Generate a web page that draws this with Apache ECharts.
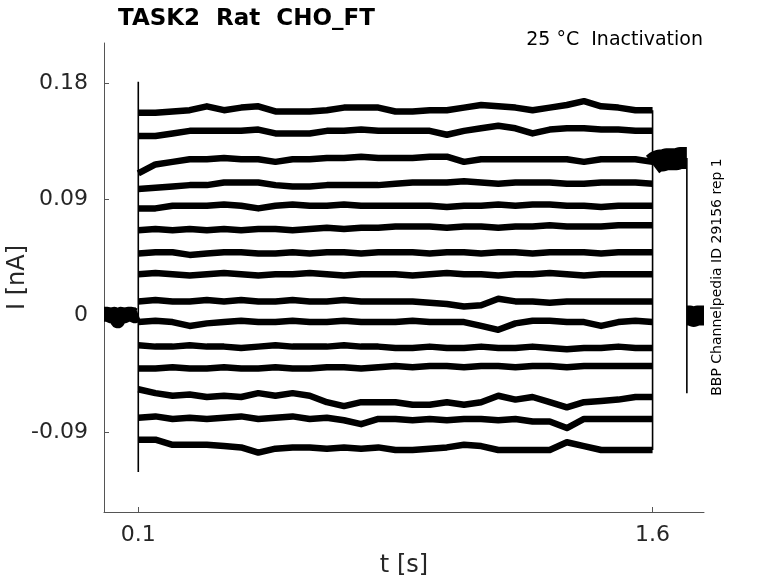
<!DOCTYPE html>
<html>
<head>
<meta charset="utf-8">
<script src="https://cdn.jsdelivr.net/npm/echarts@6/dist/echarts.min.js"></script>
<style>
  html, body { margin: 0; padding: 0; background: #fff; }
  #main { width: 778px; height: 583px; }
</style>
</head>
<body>
<div id="main"></div>
<script>
// 时间点（秒）
var preTimes = [0, 0.01, 0.02, 0.03, 0.035, 0.04, 0.045, 0.05, 0.06, 0.07, 0.08, 0.09, 0.1];
var pulseTimes = [0.1, 0.15, 0.2, 0.25, 0.3, 0.35, 0.4, 0.45, 0.5, 0.55, 0.6, 0.65, 0.7, 0.75, 0.8,
  0.85, 0.9, 0.95, 1.0, 1.05, 1.1, 1.15, 1.2, 1.25, 1.3, 1.35, 1.4, 1.45, 1.5, 1.55, 1.6];
var testTimes = [1.6, 1.61, 1.62, 1.63, 1.64, 1.65, 1.66, 1.67, 1.68, 1.69, 1.7];
var tailTimes = [1.7, 1.71, 1.72, 1.73, 1.74, 1.75];

// 电流 (nA)
var preCurrent = [0.001, 0.001, 0.0, 0.001, 0.0, -0.004, -0.001, 0.001, 0.0, 0.001, 0.001, 0.0, 0.001];
var pulseCurrents = [
  [0.157, 0.157, 0.158, 0.159, 0.162, 0.159, 0.161, 0.162, 0.158, 0.158, 0.158, 0.159, 0.161, 0.161, 0.161,
   0.158, 0.158, 0.159, 0.159, 0.161, 0.163, 0.162, 0.161, 0.159, 0.161, 0.163, 0.166, 0.162, 0.161, 0.159, 0.159],
  [0.139, 0.139, 0.141, 0.143, 0.143, 0.143, 0.143, 0.144, 0.141, 0.141, 0.141, 0.143, 0.143, 0.144, 0.143,
   0.143, 0.143, 0.143, 0.140, 0.143, 0.145, 0.147, 0.145, 0.141, 0.144, 0.145, 0.145, 0.144, 0.144, 0.143, 0.143],
  [0.110, 0.117, 0.119, 0.121, 0.121, 0.122, 0.121, 0.121, 0.119, 0.121, 0.121, 0.122, 0.122, 0.123, 0.122,
   0.122, 0.122, 0.123, 0.123, 0.119, 0.121, 0.121, 0.121, 0.121, 0.121, 0.121, 0.119, 0.121, 0.121, 0.121, 0.119],
  [0.098, 0.099, 0.100, 0.101, 0.101, 0.103, 0.103, 0.103, 0.101, 0.100, 0.100, 0.101, 0.101, 0.101, 0.101,
   0.102, 0.103, 0.103, 0.103, 0.104, 0.103, 0.102, 0.103, 0.103, 0.103, 0.102, 0.102, 0.103, 0.103, 0.103, 0.102],
  [0.083, 0.083, 0.085, 0.085, 0.085, 0.086, 0.085, 0.083, 0.085, 0.086, 0.085, 0.085, 0.086, 0.085, 0.085,
   0.085, 0.085, 0.085, 0.084, 0.085, 0.085, 0.086, 0.085, 0.086, 0.086, 0.085, 0.085, 0.084, 0.085, 0.085, 0.085],
  [0.066, 0.067, 0.066, 0.067, 0.066, 0.067, 0.066, 0.067, 0.067, 0.066, 0.067, 0.068, 0.067, 0.068, 0.068,
   0.069, 0.069, 0.069, 0.068, 0.069, 0.069, 0.068, 0.069, 0.069, 0.070, 0.069, 0.069, 0.069, 0.070, 0.070, 0.070],
  [0.048, 0.049, 0.049, 0.047, 0.048, 0.049, 0.049, 0.048, 0.048, 0.049, 0.048, 0.049, 0.049, 0.048, 0.049,
   0.049, 0.049, 0.048, 0.049, 0.049, 0.048, 0.049, 0.049, 0.048, 0.049, 0.049, 0.049, 0.048, 0.049, 0.049, 0.049],
  [0.032, 0.033, 0.032, 0.031, 0.032, 0.033, 0.032, 0.031, 0.032, 0.032, 0.033, 0.032, 0.031, 0.032, 0.032,
   0.032, 0.031, 0.032, 0.033, 0.032, 0.032, 0.031, 0.032, 0.032, 0.033, 0.032, 0.031, 0.032, 0.032, 0.032, 0.032],
  [0.011, 0.012, 0.011, 0.011, 0.012, 0.011, 0.012, 0.011, 0.011, 0.012, 0.011, 0.011, 0.012, 0.011, 0.011,
   0.011, 0.011, 0.010, 0.009, 0.007, 0.008, 0.013, 0.011, 0.011, 0.010, 0.011, 0.011, 0.011, 0.011, 0.011, 0.011],
  [-0.005, -0.004, -0.005, -0.008, -0.006, -0.005, -0.004, -0.005, -0.005, -0.004, -0.005, -0.005, -0.004, -0.005, -0.005,
   -0.005, -0.004, -0.005, -0.005, -0.005, -0.008, -0.011, -0.006, -0.004, -0.004, -0.005, -0.005, -0.008, -0.005, -0.004, -0.005],
  [-0.023, -0.024, -0.024, -0.023, -0.024, -0.024, -0.025, -0.024, -0.023, -0.024, -0.024, -0.024, -0.023, -0.024, -0.024,
   -0.025, -0.025, -0.024, -0.025, -0.025, -0.024, -0.025, -0.025, -0.024, -0.025, -0.026, -0.025, -0.025, -0.024, -0.025, -0.025],
  [-0.041, -0.041, -0.040, -0.041, -0.041, -0.040, -0.041, -0.041, -0.040, -0.041, -0.041, -0.040, -0.040, -0.041, -0.040,
   -0.039, -0.040, -0.039, -0.039, -0.040, -0.039, -0.039, -0.040, -0.039, -0.039, -0.040, -0.039, -0.039, -0.039, -0.039, -0.039],
  [-0.057, -0.060, -0.062, -0.061, -0.063, -0.062, -0.063, -0.060, -0.062, -0.060, -0.062, -0.067, -0.070, -0.067, -0.067,
   -0.067, -0.069, -0.069, -0.067, -0.069, -0.067, -0.062, -0.065, -0.063, -0.067, -0.071, -0.067, -0.066, -0.065, -0.063, -0.063],
  [-0.079, -0.078, -0.080, -0.079, -0.080, -0.079, -0.078, -0.080, -0.079, -0.078, -0.080, -0.079, -0.081, -0.084, -0.080,
   -0.080, -0.081, -0.080, -0.081, -0.080, -0.080, -0.081, -0.080, -0.082, -0.082, -0.087, -0.080, -0.080, -0.080, -0.080, -0.080],
  [-0.096, -0.096, -0.100, -0.100, -0.100, -0.101, -0.102, -0.106, -0.103, -0.102, -0.102, -0.103, -0.102, -0.103, -0.102,
   -0.104, -0.104, -0.103, -0.102, -0.100, -0.101, -0.104, -0.104, -0.104, -0.104, -0.098, -0.101, -0.104, -0.104, -0.104, -0.104]
];
var testCurrent = [0.117, 0.119, 0.120, 0.120, 0.121, 0.121, 0.121, 0.121, 0.122, 0.122, 0.122];
var tailCurrent = [0.0, 0.0, -0.001, 0.0, 0.0, 0.0];
var onsetPeaks = [0.181, -0.121]; // 0.1 s 处的电容瞬变
var tailDip = -0.060;             // 1.7 s 处的尾电流尖峰

var xTicks = [0.1, 1.6];
var yTicks = [-0.09, 0, 0.09, 0.18];

var FONT = 'DejaVu Sans';
var chart = echarts.init(document.getElementById('main'));

function pairs(ts, vs) {
  return ts.map(function (t, i) { return [t, vs[i]]; });
}
function traceLine(data, width) {
  return {
    type: 'line',
    data: data,
    showSymbol: false,
    silent: true,
    lineStyle: { color: '#000', width: width, cap: 'butt', join: 'round' }
  };
}

var series = [];
// 保持电位段
series.push(traceLine(pairs(preTimes, preCurrent), 15));
// 各条预脉冲
pulseCurrents.forEach(function (vals) {
  series.push(traceLine(pairs(pulseTimes, vals), 6.5));
});
// 测试脉冲与尾段
series.push(traceLine(pairs(testTimes, testCurrent), 22));
series.push(traceLine(pairs(tailTimes, tailCurrent), 20));

// 竖直跳变
var lastVals = pulseCurrents.map(function (v) { return v[v.length - 1]; });
series.push(traceLine([[0.1, onsetPeaks[0]], [0.1, onsetPeaks[1]]], 1.6));
series.push(traceLine([[1.6, Math.max.apply(null, lastVals)], [1.6, Math.min.apply(null, lastVals)]], 1.6));
series.push(traceLine([[1.7, testCurrent[testCurrent.length - 1]], [1.7, tailDip]], 1.6));

var option = {
  animation: false,
  backgroundColor: '#fff',
  textStyle: { fontFamily: FONT },
  title: {
    text: 'TASK2  Rat  CHO_FT',
    left: 113,
    top: 3,
    textStyle: { fontFamily: FONT, fontSize: 23, fontWeight: 'bold', color: '#000' }
  },
  graphic: [
    {
      type: 'text',
      right: 75,
      top: 31,
      style: { text: '25 °C  Inactivation', font: '19px "DejaVu Sans"', fill: '#000' }
    },
    {
      type: 'text',
      x: 717,
      y: 277,
      rotation: Math.PI / 2,
      style: {
        text: 'BBP Channelpedia ID 29156 rep 1',
        font: '14px "DejaVu Sans"',
        fill: '#000',
        align: 'center',
        verticalAlign: 'middle'
      }
    }
  ],
  grid: { left: 104, right: 74, top: 43, bottom: 71, outerBoundsMode: 'none', containLabel: false },
  xAxis: {
    type: 'value',
    min: 0,
    max: 1.75,
    name: 't [s]',
    nameLocation: 'middle',
    nameGap: 42,
    nameMoveOverlap: false,
    nameTextStyle: { fontFamily: FONT, fontSize: 24, color: '#262626' },
    splitLine: { show: false },
    axisLine: { show: true, onZero: false, lineStyle: { color: '#555', width: 1 } },
    axisTick: { show: true, inside: true, length: 5, customValues: xTicks, lineStyle: { color: '#555' } },
    axisLabel: { customValues: xTicks, fontFamily: FONT, fontSize: 22, color: '#262626', margin: 12 }
  },
  yAxis: {
    type: 'value',
    min: -0.152,
    max: 0.211,
    name: 'I [nA]',
    nameLocation: 'middle',
    nameGap: 74,
    nameMoveOverlap: false,
    nameTextStyle: { fontFamily: FONT, fontSize: 24, color: '#262626' },
    splitLine: { show: false },
    axisLine: { show: true, onZero: false, lineStyle: { color: '#555', width: 1 } },
    axisTick: { show: true, inside: true, length: 5, customValues: yTicks, lineStyle: { color: '#555' } },
    axisLabel: { customValues: yTicks, fontFamily: FONT, fontSize: 22, color: '#262626', margin: 16 }
  },
  series: series
};
chart.setOption(option);
</script>
</body>
</html>
